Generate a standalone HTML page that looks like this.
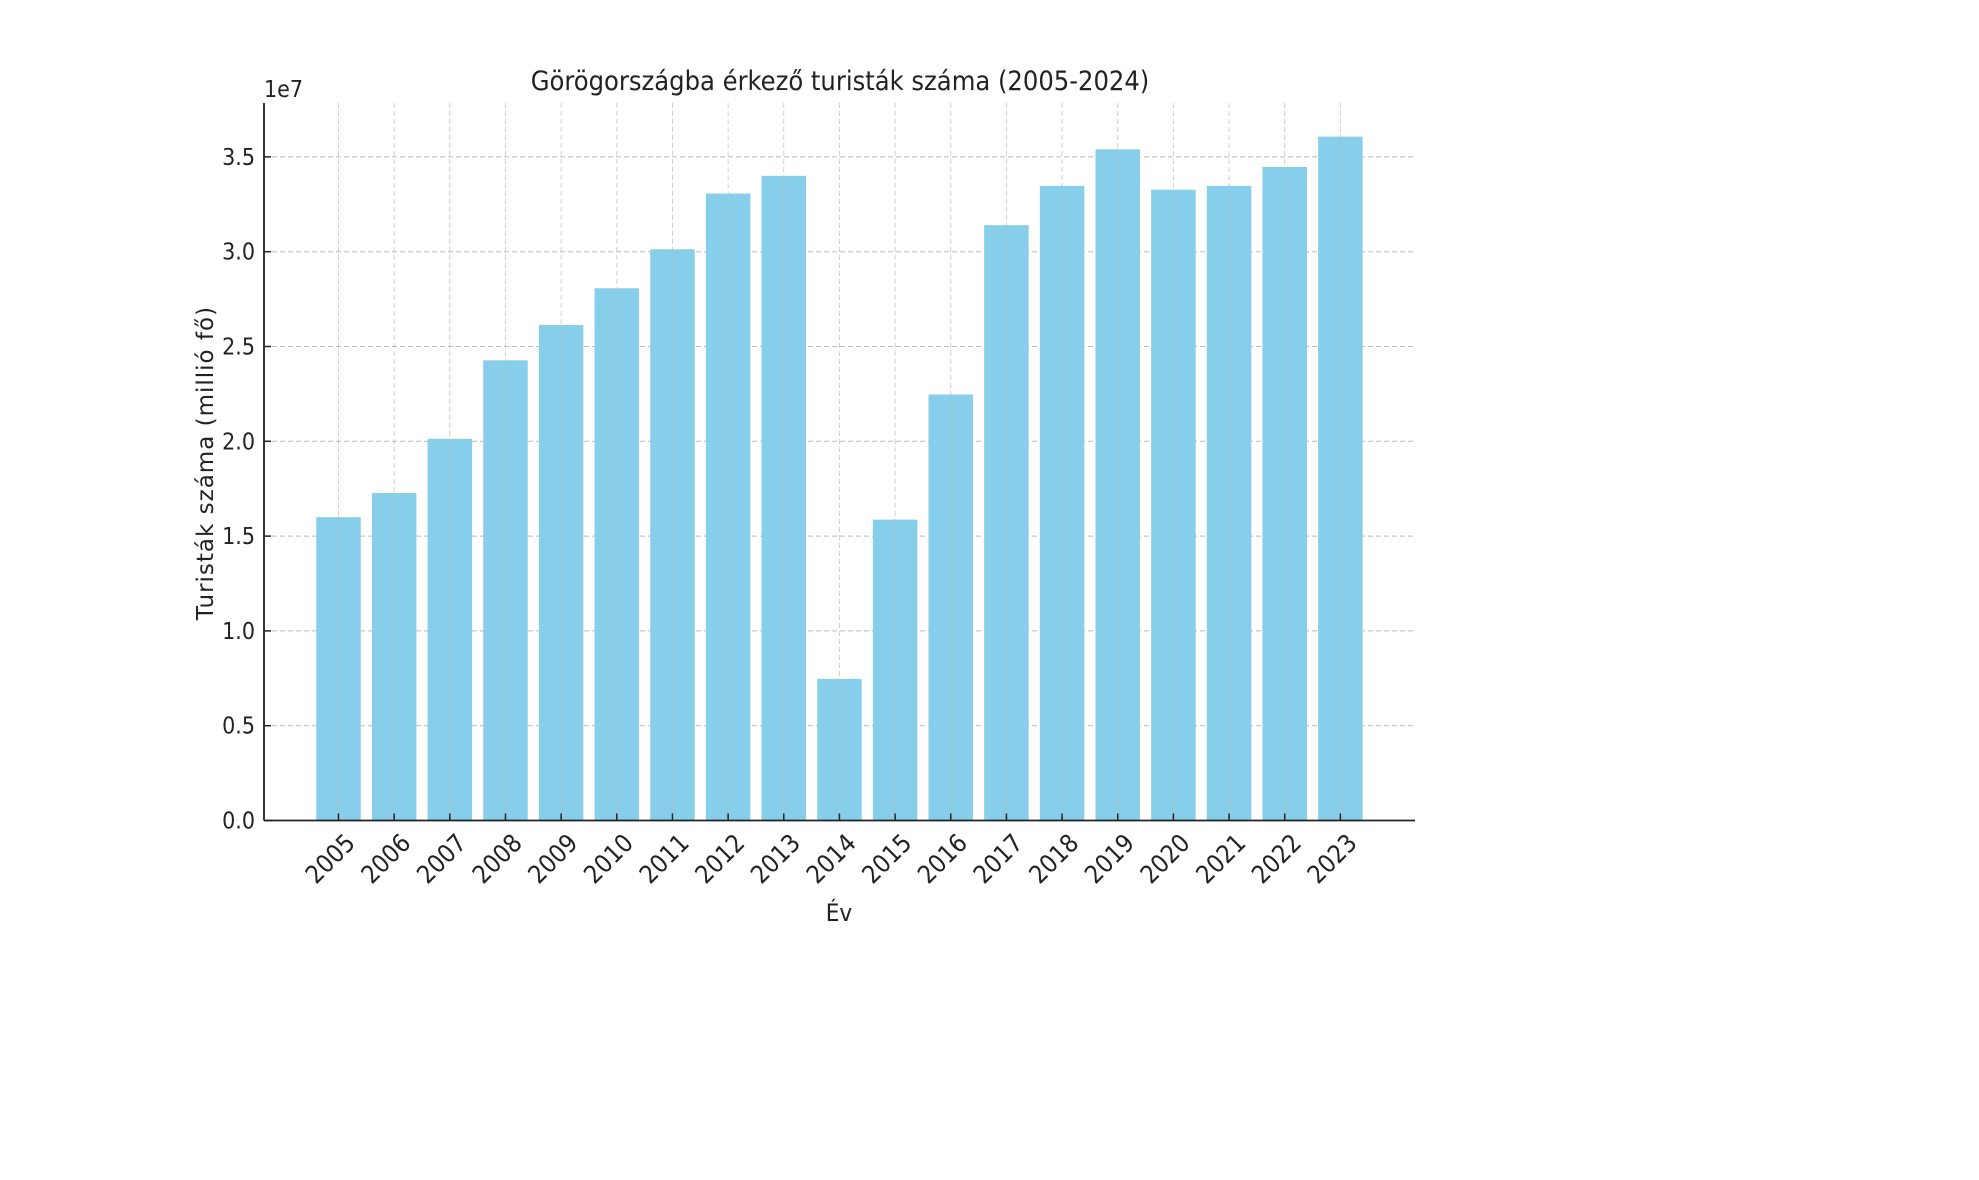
<!DOCTYPE html>
<html><head><meta charset="utf-8"><style>
html,body{margin:0;padding:0;background:#fff;}
svg{display:block;font-family:"Liberation Sans Narrow","DejaVu Sans Condensed","Liberation Sans",sans-serif;}
</style></head><body>
<svg width="1979" height="1180" viewBox="0 0 1979 1180" xmlns="http://www.w3.org/2000/svg">
<g id="grid" stroke="#bbb" stroke-width="1" stroke-dasharray="5,3"></g>
<g id="bars" fill="#87ceeb"></g>
<g id="vgrid" stroke="#bbb" stroke-width="1" stroke-dasharray="5,3" opacity="0.7"></g>
<g id="ticks" stroke="#222" stroke-width="1.5"></g>
<g id="labels" fill="#222" font-size="23"></g>
<g id="xlabels" fill="#222" font-size="25"></g>
<line x1="264" y1="103" x2="264" y2="820.5" stroke="#222" stroke-width="1.8"/>
<line x1="264" y1="820.5" x2="1415" y2="820.5" stroke="#222" stroke-width="1.8"/>
<text x="264" y="97" font-size="23" fill="#222">1e7</text>
<text x="840" y="90" font-size="27" fill="#222" text-anchor="middle">Görögországba érkező turisták száma (2005-2024)</text>
<text x="0" y="0" font-size="23" letter-spacing="1" fill="#222" text-anchor="middle" font-family="DejaVu Sans, sans-serif" transform="translate(213,463) rotate(-90)">Turisták száma (millió fő)</text>
<text x="839" y="921" font-size="24" fill="#222" text-anchor="middle">Év</text>
</svg>
<script>
const vals=[1.60,1.727,2.013,2.427,2.613,2.807,3.013,3.307,3.40,0.747,1.587,2.247,3.14,3.347,3.54,3.327,3.347,3.447,3.607];
const ns="http://www.w3.org/2000/svg";
const z=820.5,u=189.6,x0=338.5,dx=55.66,bw=44.5;
function el(p,t,a,txt){const e=document.createElementNS(ns,t);for(const k in a)e.setAttribute(k,a[k]);if(txt!==undefined)e.textContent=txt;document.getElementById(p).appendChild(e);}
for(let i=0;i<=7;i++){const v=i*0.5,y=z-v*u;
 if(i>0)el("grid","line",{x1:264,y1:y,x2:1415,y2:y});
 el("ticks","line",{x1:264,y1:y,x2:271,y2:y});
 el("labels","text",{x:255,y:y+8,"text-anchor":"end"},v.toFixed(1));}
vals.forEach((v,i)=>{const cx=x0+i*dx;
 el("bars","rect",{x:cx-bw/2,y:z-v*u,width:bw,height:v*u});
 el("vgrid","line",{x1:cx,y1:103,x2:cx,y2:z});
 el("ticks","line",{x1:cx,y1:z,x2:cx,y2:z-7});
 el("xlabels","text",{x:0,y:0,"text-anchor":"end",transform:`translate(${cx+18},${z+24}) rotate(-45)`},String(2005+i));});
</script>
</body></html>
